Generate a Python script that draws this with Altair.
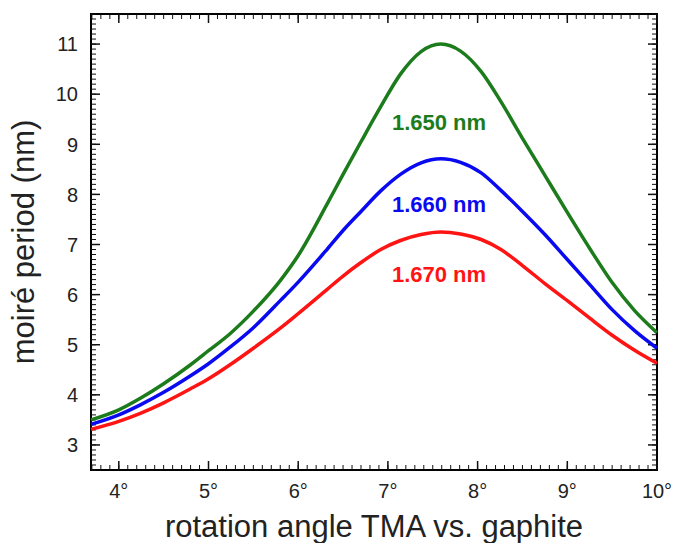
import altair as alt
import pandas as pd

# rotation angle (degrees)
angle = [3.69, 4.00, 4.24, 4.50, 4.80, 5.00, 5.24, 5.50, 5.80, 6.00, 6.32, 6.50, 6.70,
         6.92, 7.14, 7.37, 7.59, 7.81, 8.04, 8.26, 8.50, 8.75, 9.00, 9.25, 9.50, 9.75, 10.0]
# moiré period (nm) for the three TMA lattice constants
p_1650 = [3.50, 3.70, 3.93, 4.22, 4.60, 4.88, 5.22, 5.67, 6.28, 6.78, 7.80, 8.40, 9.05,
          9.75, 10.40, 10.85, 11.00, 10.86, 10.45, 9.85, 9.12, 8.38, 7.64, 6.92, 6.24, 5.68, 5.24]
p_1660 = [3.41, 3.60, 3.80, 4.05, 4.38, 4.62, 4.95, 5.34, 5.88, 6.25, 6.90, 7.28, 7.66,
          8.07, 8.40, 8.63, 8.71, 8.64, 8.43, 8.08, 7.66, 7.20, 6.70, 6.20, 5.70, 5.28, 4.93]
p_1670 = [3.31, 3.47, 3.63, 3.84, 4.12, 4.32, 4.60, 4.93, 5.33, 5.62, 6.10, 6.37, 6.64,
          6.90, 7.08, 7.20, 7.25, 7.21, 7.10, 6.90, 6.58, 6.22, 5.88, 5.53, 5.19, 4.89, 4.63]

series_names = ["1.650 nm", "1.660 nm", "1.670 nm"]
series_colors = ["#1c7c1c", "#0a0af0", "#ff1414"]
label_x = [7.57, 7.57, 7.57]
label_y = [9.43, 7.78, 6.39]

x_major = [4, 5, 6, 7, 8, 9, 10]
x_tick_labels = ["4°", "5°", "6°", "7°", "8°", "9°", "10°"]
y_major = [3, 4, 5, 6, 7, 8, 9, 10, 11]
y_tick_labels = ["3", "4", "5", "6", "7", "8", "9", "10", "11"]
x_minor = [round(3.7 + 0.1 * i, 1) for i in range(64)]
y_minor = [round(2.5 + 0.1 * i, 1) for i in range(92)]
x_lo, x_hi = 3.69, 10.0
y_lo, y_hi = 2.5, 11.6
x_title = "rotation angle TMA vs. gaphite"
y_title = "moiré period (nm)"

W, H = 566, 456
MAJOR_LEN, MINOR_LEN = 9, 5

rows = []
for name, vals in zip(series_names, [p_1650, p_1660, p_1670]):
    for a, v in zip(angle, vals):
        rows.append({"angle": a, "period": v, "series": name})
df = pd.DataFrame(rows)
labels_df = pd.DataFrame({"angle": label_x, "period": label_y, "series": series_names})

# tick segments (two end points each), built from the tick value lists
y_per_px = (y_hi - y_lo) / H
x_per_px = (x_hi - x_lo) / W


def tick_segments(xvals, yvals, length):
    segs = []
    k = 0
    for v in xvals:
        for edge, sgn in [(y_lo, 1), (y_hi, -1)]:
            segs.append({"tx": v, "ty": edge, "tid": k})
            segs.append({"tx": v, "ty": edge + sgn * length * y_per_px, "tid": k})
            k += 1
    for v in yvals:
        for edge, sgn in [(x_lo, 1), (x_hi, -1)]:
            segs.append({"tx": edge, "ty": v, "tid": k})
            segs.append({"tx": edge + sgn * length * x_per_px, "ty": v, "tid": k})
            k += 1
    return pd.DataFrame(segs)


major_df = tick_segments(x_major, y_major, MAJOR_LEN)
minor_df = tick_segments(x_minor, y_minor, MINOR_LEN)

xscale = alt.Scale(domain=[x_lo, x_hi], nice=False, zero=False)
yscale = alt.Scale(domain=[y_lo, y_hi], nice=False, zero=False)
cscale = alt.Scale(domain=series_names, range=series_colors)

TXT = "#222222"
FONT = "Liberation Sans"

lines = alt.Chart(df).mark_line(strokeWidth=3.5, interpolate="monotone").encode(
    x=alt.X("angle:Q", scale=xscale, axis=None),
    y=alt.Y("period:Q", scale=yscale, axis=None),
    color=alt.Color("series:N", scale=cscale, legend=None),
)


def tick_layer(d, width):
    return alt.Chart(d).mark_line(color="#111111", strokeWidth=width).encode(
        x=alt.X("tx:Q", scale=xscale, axis=None),
        y=alt.Y("ty:Q", scale=yscale, axis=None),
        detail="tid:N",
    )


major_ticks = tick_layer(major_df, 1.5)
minor_ticks = tick_layer(minor_df, 1.0)

# tick labels
x_lab = alt.Chart(pd.DataFrame({"xl": x_major, "t": x_tick_labels})).mark_text(
    font=FONT, fontSize=20, color=TXT, align="center", baseline="alphabetic", yOffset=28
).encode(
    x=alt.X("xl:Q", scale=xscale, axis=None),
    y=alt.YDatum(y_lo, type="quantitative", scale=yscale, axis=None),
    text="t:N",
)
y_lab = alt.Chart(pd.DataFrame({"ylab": y_major, "t": y_tick_labels})).mark_text(
    font=FONT, fontSize=20, color=TXT, align="right", baseline="alphabetic",
    xOffset=-13, yOffset=7.3
).encode(
    y=alt.Y("ylab:Q", scale=yscale, axis=None),
    x=alt.XDatum(x_lo, type="quantitative", scale=xscale, axis=None),
    text="t:N",
)

# axis titles
x_tit = alt.Chart(pd.DataFrame({"t": [x_title]})).mark_text(
    font=FONT, fontSize=31, color=TXT, align="center", baseline="alphabetic", yOffset=67
).encode(
    x=alt.XDatum((x_lo + x_hi) / 2, type="quantitative", scale=xscale, axis=None),
    y=alt.YDatum(y_lo, type="quantitative", scale=yscale, axis=None),
    text="t:N",
)
y_tit = alt.Chart(pd.DataFrame({"t": [y_title]})).mark_text(
    font=FONT, fontSize=31, color=TXT, align="center", baseline="alphabetic",
    angle=270, xOffset=-57
).encode(
    x=alt.XDatum(x_lo, type="quantitative", scale=xscale, axis=None),
    y=alt.YDatum((y_lo + y_hi) / 2, type="quantitative", scale=yscale, axis=None),
    text="t:N",
)

texts = alt.Chart(labels_df).mark_text(font=FONT, fontSize=22, fontWeight="bold").encode(
    x=alt.X("angle:Q", scale=xscale, axis=None),
    y=alt.Y("period:Q", scale=yscale, axis=None),
    text="series:N",
    color=alt.Color("series:N", scale=cscale, legend=None),
)

chart = alt.layer(minor_ticks, major_ticks, lines, texts, x_lab, y_lab, x_tit, y_tit).properties(
    width=W, height=H,
    padding={"left": 91, "top": 14, "right": 16, "bottom": 73},
    autosize=alt.AutoSizeParams(type="none"),
    background="white",
).configure(font=FONT).configure_view(
    stroke="#000000", strokeWidth=2
)

chart.save("out.html", embed_options={"renderer": "svg", "actions": False})
